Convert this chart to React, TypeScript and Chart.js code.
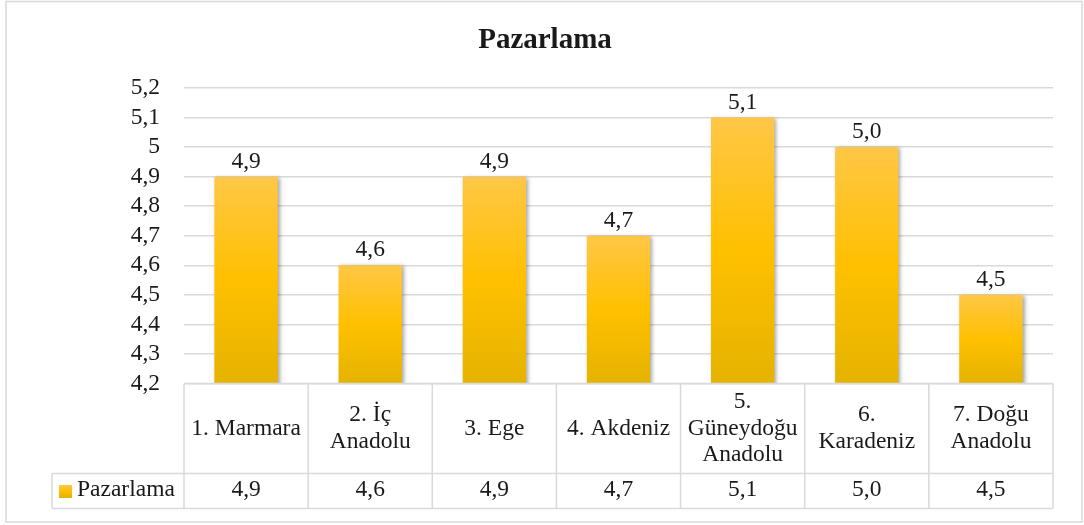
import React, { useEffect, useRef } from "react";
import { Chart, registerables } from "chart.js";

Chart.register(...registerables);

const chartTitle = "Pazarlama";
const seriesName = "Pazarlama";
const categories: string[][] = [
  ["1. Marmara"],
  ["2. İç", "Anadolu"],
  ["3. Ege"],
  ["4. Akdeniz"],
  ["5.", "Güneydoğu", "Anadolu"],
  ["6.", "Karadeniz"],
  ["7. Doğu", "Anadolu"],
];
const values: number[] = [4.9, 4.6, 4.9, 4.7, 5.1, 5.0, 4.5];
const yMin = 4.2;
const yMax = 5.2;
const yStep = 0.1;

const FONT = "'Liberation Serif', 'Times New Roman', serif";
const TEXT = "#1a1a1a";
const LINE = "#d9d9d9";

const fmtVal = (v: number) => v.toFixed(1).replace(".", ",");
const fmtTick = (v: number) => String(Number(v.toFixed(1))).replace(".", ",");

function barGradient(ctx: CanvasRenderingContext2D, top: number, bottom: number) {
  const g = ctx.createLinearGradient(0, top, 0, bottom);
  g.addColorStop(0, "#ffc746");
  g.addColorStop(0.5, "#ffc000");
  g.addColorStop(1, "#e5b300");
  return g;
}

const decorPlugin = {
  id: "decor",
  beforeDraw(chart: any) {
    const { ctx, width, height } = chart;
    ctx.save();
    ctx.fillStyle = "#ffffff";
    ctx.fillRect(0, 0, width, height);
    ctx.restore();
  },
  beforeDatasetsDraw(chart: any) {
    const ctx = chart.ctx;
    ctx.save();
    ctx.shadowColor = "rgba(0,0,0,0.35)";
    ctx.shadowBlur = 4;
    ctx.shadowOffsetX = 2;
    ctx.shadowOffsetY = 1;
  },
  afterDatasetsDraw(chart: any) {
    const ctx = chart.ctx;
    ctx.restore();
    const meta = chart.getDatasetMeta(0);
    ctx.save();
    ctx.font = `23.5px ${FONT}`;
    ctx.fillStyle = TEXT;
    ctx.textAlign = "center";
    ctx.textBaseline = "alphabetic";
    meta.data.forEach((bar: any, i: number) => {
      ctx.fillText(fmtVal(values[i]), bar.x, bar.y - 9);
    });
    ctx.restore();
  },
  afterDraw(chart: any) {
    const { ctx, chartArea, width } = chart;
    const yScale = chart.scales.y;
    const left = chartArea.left;
    const right = chartArea.right;
    const top = yScale.getPixelForValue(yMin);
    const rowMid = top + 90;
    const rowBottom = rowMid + 35;
    const legendLeft = 52;
    const n = categories.length;
    const colW = (right - left) / n;
    ctx.save();
    // title
    ctx.fillStyle = TEXT;
    ctx.font = `bold 29px ${FONT}`;
    ctx.textAlign = "center";
    ctx.textBaseline = "alphabetic";
    ctx.fillText(chartTitle, width / 2 + 3, 48);

    // table lines
    ctx.strokeStyle = LINE;
    ctx.lineWidth = 1.5;
    ctx.beginPath();
    for (let i = 0; i <= n; i++) {
      const x = left + i * colW;
      ctx.moveTo(x, top);
      ctx.lineTo(x, rowBottom);
    }
    ctx.moveTo(left, top);
    ctx.lineTo(right, top);
    ctx.moveTo(legendLeft, rowMid);
    ctx.lineTo(right, rowMid);
    ctx.moveTo(legendLeft, rowBottom);
    ctx.lineTo(right, rowBottom);
    ctx.moveTo(legendLeft, rowMid);
    ctx.lineTo(legendLeft, rowBottom);
    ctx.stroke();

    // table text
    ctx.font = `23.5px ${FONT}`;
    ctx.fillStyle = TEXT;
    ctx.textAlign = "center";
    ctx.textBaseline = "middle";
    const lh = 26.5;
    categories.forEach((lines, i) => {
      const cx = left + (i + 0.5) * colW;
      const cy = (top + rowMid) / 2;
      const start = cy - ((lines.length - 1) * lh) / 2;
      lines.forEach((t, k) => ctx.fillText(t, cx, start + k * lh));
      ctx.fillText(fmtVal(values[i]), cx, (rowMid + rowBottom) / 2 - 1);
    });

    // legend cell
    const sqY = (rowMid + rowBottom) / 2 - 6;
    ctx.fillStyle = barGradient(ctx, sqY, sqY + 12);
    ctx.fillRect(59, sqY, 13, 13);
    ctx.fillStyle = TEXT;
    ctx.textAlign = "left";
    ctx.fillText(seriesName, 77, (rowMid + rowBottom) / 2 - 1);

    // outer border
    ctx.strokeStyle = LINE;
    ctx.lineWidth = 1.5;
    ctx.strokeRect(6, 1.5, 1076, 520.5);
    ctx.restore();
  },
};

export default function App() {
  const canvasRef = useRef<HTMLCanvasElement | null>(null);

  useEffect(() => {
    const canvas = canvasRef.current;
    if (!canvas) return;
    const chart = new Chart(canvas, {
      type: "bar",
      data: {
        labels: categories,
        datasets: [
          {
            label: seriesName,
            data: values,
            backgroundColor: (c: any) => {
              const ch = c.chart;
              const y = ch.scales && ch.scales.y;
              if (!y || c.type !== "data") return "#ffc000";
              const t = y.getPixelForValue(c.raw);
              const b = y.getPixelForValue(yMin);
              if (!isFinite(t) || !isFinite(b) || t === b) return "#ffc000";
              return barGradient(ch.ctx, t, b);
            },
            borderWidth: 0,
            categoryPercentage: 1,
            barPercentage: 0.51,
          },
        ],
      },
      options: {
        responsive: false,
        animation: false,
        events: [],
        layout: { padding: { left: 0, right: 31, top: 88, bottom: 141.5 } },
        plugins: {
          legend: { display: false },
          title: { display: false },
          tooltip: { enabled: false },
        },
        scales: {
          x: { display: false },
          y: {
            min: yMin,
            max: yMax,
            afterFit: (s: any) => {
              s.width = 184;
            },
            ticks: {
              stepSize: yStep,
              autoSkip: false,
              padding: 24,
              font: { family: FONT, size: 23.5 },
              color: TEXT,
              callback: (v: any) => fmtTick(Number(v)),
            },
            grid: { color: LINE, lineWidth: 1.5, drawTicks: false },
            border: { display: false },
          },
        },
      },
      plugins: [decorPlugin],
    });
    return () => chart.destroy();
  }, []);

  return (
    <div style={{ position: "absolute", left: 0, top: 0, width: 1084, height: 525 }}>
      <canvas ref={canvasRef} width={1084} height={525} />
    </div>
  );
}
